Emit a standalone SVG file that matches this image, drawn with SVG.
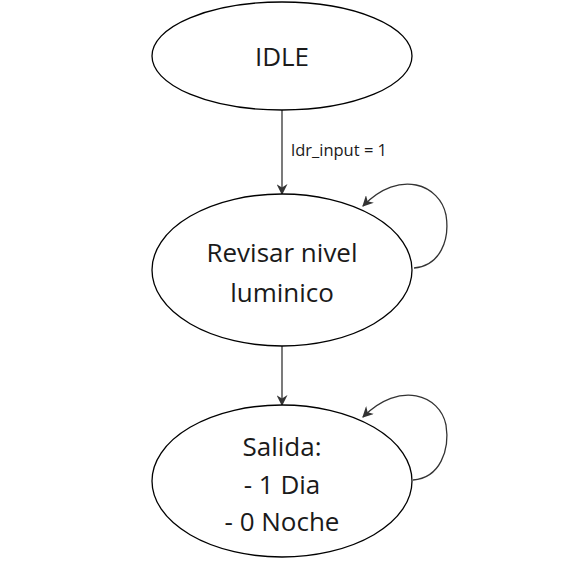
<svg xmlns="http://www.w3.org/2000/svg" width="588" height="565" viewBox="0 0 588 565">
<style>
.node ellipse{fill:#fff;stroke:#000;stroke-width:1.3}
.t{font-family:"Open Sans",sans-serif;font-size:26px;fill:#1a1a1a;text-anchor:middle}
.lbl{font-family:"Open Sans",sans-serif;font-size:16.5px;fill:#1a1a1a}
.edge{fill:none;stroke:#333;stroke-width:1.3}
</style>
<defs>
<marker id="ah" viewBox="0 0 10 10" refX="9" refY="5" markerWidth="11" markerHeight="11" markerUnits="userSpaceOnUse" orient="auto">
<path d="M0,0 L10,5 L0,10 L3,5 Z" fill="#333"/>
</marker>
</defs>
<rect width="588" height="565" fill="#fff"/>
<g id="connectors">
<path class="edge" d="M282,110 L282,194" marker-end="url(#ah)"/>
<path class="edge" d="M282,346 L282,405" marker-end="url(#ah)"/>
<path class="edge" d="M414,268 C440,266 450,240 446,215 C440,185 400,168 363,206" marker-end="url(#ah)"/>
<path class="edge" d="M413,480 C440,478 450,450 446,425 C440,395 400,380 363,417" marker-end="url(#ah)"/>
<text class="lbl" x="291" y="156">ldr_input = 1</text>
</g>
<g id="idle" class="node">
<ellipse cx="282" cy="56" rx="130" ry="54"/>
<text class="t" x="282" y="66">IDLE</text>
</g>
<g id="revisar" class="node">
<ellipse cx="282" cy="270" rx="130" ry="76"/>
<text class="t" x="282" y="262">Revisar nivel</text>
<text class="t" x="282" y="302">luminico</text>
</g>
<g id="salida" class="node">
<ellipse cx="282" cy="481" rx="130" ry="76"/>
<text class="t" x="282" y="456">Salida:</text>
<text class="t" x="282" y="494">- 1 Dia</text>
<text class="t" x="282" y="531">- 0 Noche</text>
</g>
</svg>
